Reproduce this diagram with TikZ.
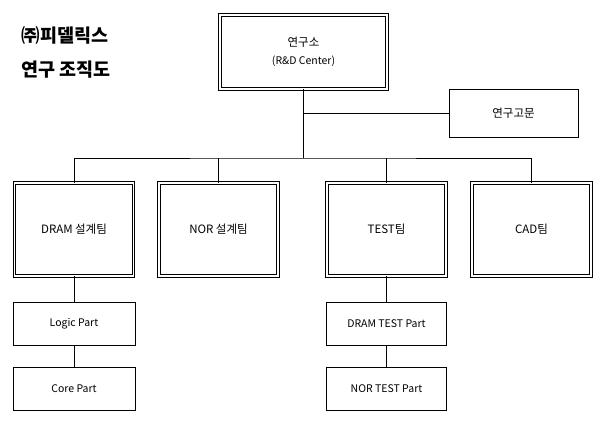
\documentclass[tikz,border=0pt]{standalone}
\usepackage{fontspec}
\setmainfont{Noto Sans CJK KR}
\begin{document}
\begin{tikzpicture}[x=1pt,y=-1pt,
 dbl/.style={draw,double,double distance=1.5pt,line width=0.8pt,minimum width=119pt,minimum height=93pt,font=\fontsize{11.5}{14}\selectfont,align=center},
 sbox/.style={draw,line width=0.6pt,minimum width=122pt,minimum height=43pt,font=\fontsize{10.5}{13}\selectfont},
 ln/.style={line width=0.6pt}]
\useasboundingbox (0,0) rectangle (606,426);
\node[anchor=west,font=\fontsize{18.5}{34}\bfseries\selectfont,align=left] (title) at (18,52) {㈜피델릭스\\연구 조직도};
\node[dbl,minimum width=167pt,minimum height=74pt] (rc) at (303.5,52) {연구소\\[4pt]{\fontsize{10.5}{13}\selectfont (R\&D Center)}};
\node[sbox,minimum width=129pt,minimum height=48pt,font=\fontsize{11.5}{14}\selectfont] (adv) at (513.5,113) {연구고문};
\node[dbl] (dram) at (74,229.5) {DRAM 설계팀};
\node[dbl] (nor) at (218.5,229.5) {NOR 설계팀};
\node[dbl] (test) at (386.5,229.5) {TEST팀};
\node[dbl] (cad) at (531.5,229.5) {CAD팀};
\node[sbox] (logic) at (74,323.5) {Logic Part};
\node[sbox] (core) at (74,388.5) {Core Part};
\node[sbox,minimum width=120pt] (dt) at (386.5,323.5) {DRAM TEST Part};
\node[sbox,minimum width=120pt] (nt) at (386.5,388.5) {NOR TEST Part};
\coordinate (j) at (303.5,158);
\draw[ln] (rc.south) -- (j);
\draw[ln] (303.5,113) -- (adv.west);
\draw[ln] (dram.north) |- (j) -| (cad.north);
\draw[ln] (nor.north) -- (nor.north |- j);
\draw[ln] (test.north) -- (test.north |- j);
\draw[ln] (dram.south) -- (logic.north);
\draw[ln] (logic.south) -- (core.north);
\draw[ln] (test.south) -- (dt.north);
\draw[ln] (dt.south) -- (nt.north);
\end{tikzpicture}
\end{document}
